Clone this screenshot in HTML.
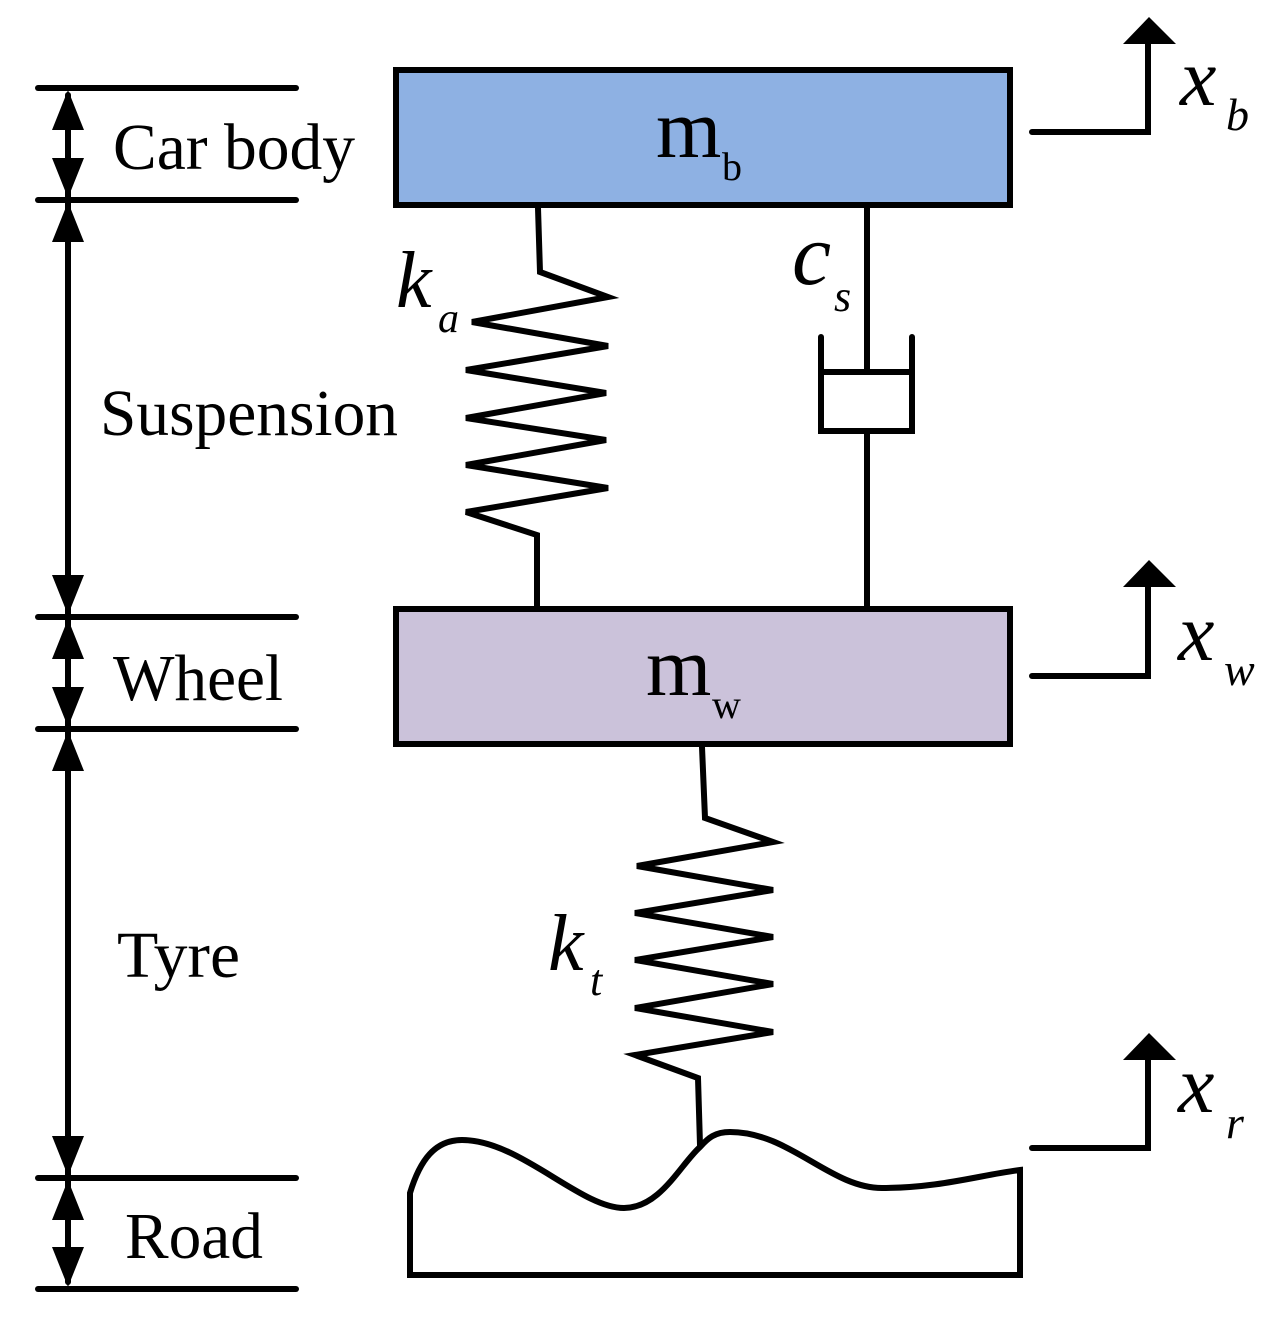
<!DOCTYPE html>
<html><head><meta charset="utf-8"><style>
html,body{margin:0;padding:0;background:#fff;}
svg{display:block;}
text{font-family:"Liberation Serif",serif;fill:#000;}
</style></head><body>
<svg width="1281" height="1326" viewBox="0 0 1281 1326" xmlns="http://www.w3.org/2000/svg">
<g stroke="#000" stroke-width="6" fill="none" stroke-linecap="round" stroke-linejoin="miter">
<line x1="38" y1="88" x2="296" y2="88"/>
<line x1="38" y1="200" x2="296" y2="200"/>
<line x1="38" y1="617" x2="296" y2="617"/>
<line x1="38" y1="729" x2="296" y2="729"/>
<line x1="38" y1="1178" x2="296" y2="1178"/>
<line x1="38" y1="1289" x2="296" y2="1289"/>
<line x1="68" y1="95" x2="68" y2="1282"/>
<rect x="396" y="70" width="614" height="135" fill="#8eb1e3"/>
<rect x="396" y="609" width="614" height="135" fill="#cbc2da"/>
<polyline points="538,208 540,272 608,297 472,322 608,346 466,370 606,393 466,418 606,440 466,465 608,488 466,512 537,535 537,607"/>
<line x1="867" y1="208" x2="867" y2="372"/>
<polyline points="821,337 821,431 912,431 912,337"/>
<line x1="821" y1="372" x2="912" y2="372"/>
<line x1="867" y1="431" x2="867" y2="607"/>
<polyline points="702,747 705,818 773,842 637,866 773,890 635,913 773,937 635,960 773,984 635,1008 773,1032 635,1055 698,1078 700,1145"/>
<path d="M410,1275 L410,1193 C420,1160 435,1140 462,1140 C520,1140 580,1208 624,1208 C660,1208 680,1165 700,1147 C708,1138 715,1132 730,1132 C790,1132 830,1188 882,1188 C940,1188 980,1175 1020,1170 L1020,1275 Z"/>
<polyline points="1032,132 1148,132 1148,42"/>
<polyline points="1032,676 1148,676 1148,585"/>
<polyline points="1032,1148 1148,1148 1148,1058"/>
</g>
<g fill="#000">
<polygon points="1123,44 1176,44 1149,17"/>
<polygon points="1123,587 1176,587 1149,560"/>
<polygon points="1123,1060 1176,1060 1149,1033"/>
<polygon points="52,130 84,130 68,90"/>
<polygon points="52,158 84,158 68,198"/>
<polygon points="52,242 84,242 68,202"/>
<polygon points="52,575 84,575 68,615"/>
<polygon points="52,659 84,659 68,619"/>
<polygon points="52,687 84,687 68,727"/>
<polygon points="52,771 84,771 68,731"/>
<polygon points="52,1136 84,1136 68,1176"/>
<polygon points="52,1220 84,1220 68,1180"/>
<polygon points="52,1247 84,1247 68,1287"/>
</g>
<text x="113" y="169" font-size="66" textLength="242" lengthAdjust="spacingAndGlyphs">Car body</text>
<text x="100" y="435" font-size="66" textLength="298" lengthAdjust="spacingAndGlyphs">Suspension</text>
<text x="113" y="700" font-size="66" textLength="170" lengthAdjust="spacingAndGlyphs">Wheel</text>
<text x="117" y="977" font-size="66" textLength="123" lengthAdjust="spacingAndGlyphs">Tyre</text>
<text x="125" y="1258" font-size="66" textLength="138" lengthAdjust="spacingAndGlyphs">Road</text>
<text x="656" y="157" font-size="84">m</text><text x="722" y="180" font-size="40">b</text>
<text x="646" y="695" font-size="84">m</text><text x="712" y="718" font-size="40">w</text>
<g font-style="italic">
<text x="396" y="307" font-size="80">k</text><text x="438" y="332" font-size="42">a</text>
<text x="792" y="284" font-size="88">c</text><text x="834" y="311" font-size="44">s</text>
<text x="548" y="970" font-size="80">k</text><text x="590" y="995" font-size="44">t</text>
<text x="1180" y="105" font-size="82">x</text><text x="1226" y="130" font-size="46">b</text>
<text x="1178" y="660" font-size="82">x</text><text x="1224" y="685" font-size="46">w</text>
<text x="1178" y="1112" font-size="82">x</text><text x="1226" y="1138" font-size="46">r</text>
</g>
</svg>
</body></html>
